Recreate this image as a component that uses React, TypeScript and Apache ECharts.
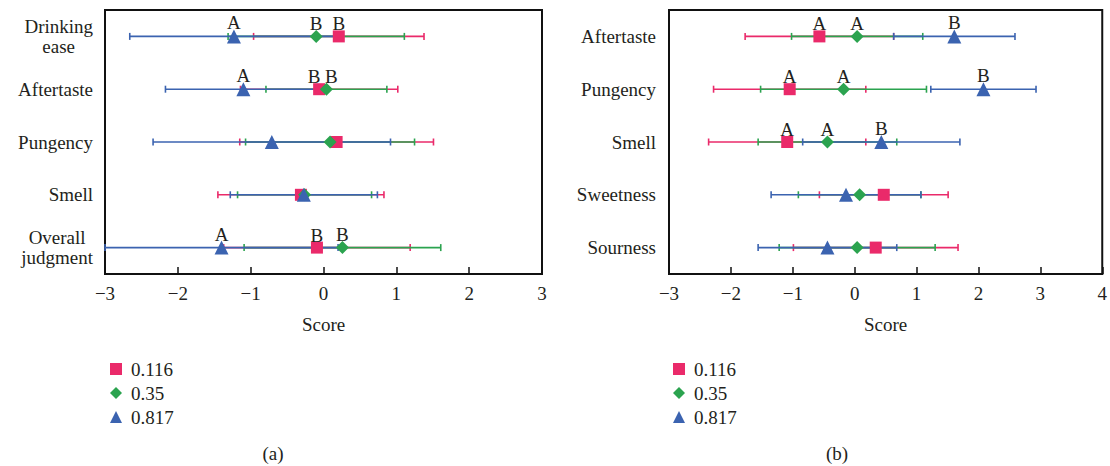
import React, { useEffect, useRef } from "react";
import * as echarts from "echarts";

const leftCategories = ["Drinking\nease", "Aftertaste", "Pungency", "Smell", "Overall\njudgment"];
const rightCategories = ["Aftertaste", "Pungency", "Smell", "Sweetness", "Sourness"];
const seriesNames = ["0.116", "0.35", "0.817"];
const xTicksLeft = [-3, -2, -1, 0, 1, 2, 3];
const xTicksRight = [-3, -2, -1, 0, 1, 2, 3, 4];

// Left panel (a)
const leftRedMean = [0.21, -0.06, 0.18, -0.31, -0.09];
const leftRedErr = [1.17, 1.08, 1.33, 1.14, 1.28];
const leftGreenMean = [-0.1, 0.04, 0.09, -0.26, 0.26];
const leftGreenErr = [1.21, 0.83, 1.16, 0.92, 1.35];
const leftBlueMean = [-1.23, -1.1, -0.71, -0.27, -1.4];
const leftBlueErr = [1.43, 1.07, 1.63, 1.01, 1.6];
const leftRedLetters = ["B", "B", "", "", "B"];
const leftGreenLetters = ["B", "B", "", "", "B"];
const leftBlueLetters = ["A", "A", "", "", "A"];

// Right panel (b)
const rightRedMean = [-0.57, -1.05, -1.09, 0.47, 0.34];
const rightRedErr = [1.2, 1.23, 1.27, 1.04, 1.33];
const rightGreenMean = [0.04, -0.18, -0.44, 0.08, 0.04];
const rightGreenErr = [1.06, 1.34, 1.12, 0.99, 1.26];
const rightBlueMean = [1.61, 2.08, 0.43, -0.14, -0.44];
const rightBlueErr = [0.98, 0.85, 1.27, 1.21, 1.12];
const rightRedLetters = ["A", "A", "A", "", ""];
const rightGreenLetters = ["A", "A", "A", "", ""];
const rightBlueLetters = ["B", "B", "B", "", ""];

const RED = "#EA2A6A";
const GREEN = "#2BA34F";
const BLUE = "#3B63B0";
const TEXT = "#231F20";
const FONT = "Liberation Serif";
const symbols = ["rect", "diamond", "triangle"];
const symbolSizes = [12, 13, 14];
const colors = [RED, GREEN, BLUE];

function errorSeries(k: number, means: number[], errs: number[], axisIdx: number) {
  const color = colors[k];
  return {
    type: "custom",
    name: seriesNames[k],
    xAxisIndex: axisIdx,
    yAxisIndex: axisIdx,
    z: 2,
    itemStyle: { color },
    encode: { x: [0, 2], y: 1 },
    data: means.map((m, i) => [m - errs[i], i, m + errs[i]]),
    renderItem: (params: any, api: any) => {
      const low = api.value(0);
      const cat = api.value(1);
      const high = api.value(2);
      const p1 = api.coord([low, cat]);
      const p2 = api.coord([high, cat]);
      const h = 3.5;
      const style = { stroke: color, lineWidth: 1.6 };
      return {
        type: "group",
        children: [
          { type: "line", shape: { x1: p1[0], y1: p1[1], x2: p2[0], y2: p2[1] }, style },
          { type: "line", shape: { x1: p1[0], y1: p1[1] - h, x2: p1[0], y2: p1[1] + h }, style },
          { type: "line", shape: { x1: p2[0], y1: p2[1] - h, x2: p2[0], y2: p2[1] + h }, style },
        ],
      };
    },
  };
}

// nudge letters apart horizontally when two labelled means nearly coincide
function labelNudge(k: number, i: number, allMeans: number[][], allLetters: string[][]) {
  let dx = 0;
  for (let j = 0; j < allMeans.length; j++) {
    if (j === k || !allLetters[j][i] || !allLetters[k][i]) continue;
    const d = allMeans[k][i] - allMeans[j][i];
    if (Math.abs(d) < 0.2) dx += d < 0 ? -5 : 5;
  }
  return dx;
}

function meanSeries(k: number, allMeans: number[][], allLetters: string[][], axisIdx: number) {
  const means = allMeans[k];
  const letters = allLetters[k];
  return {
    type: "scatter",
    name: seriesNames[k],
    xAxisIndex: axisIdx,
    yAxisIndex: axisIdx,
    z: 3 + k,
    symbol: symbols[k],
    symbolSize: symbolSizes[k],
    itemStyle: { color: colors[k], opacity: 1 },
    label: {
      show: true,
      position: "top",
      distance: -3,
      color: TEXT,
      fontFamily: FONT,
      fontSize: 19,
      formatter: (p: any) => letters[p.dataIndex],
    },
    emphasis: { disabled: true },
    data: means.map((m, i) => ({
      value: [m, i],
      label: { offset: [labelNudge(k, i, allMeans, allLetters), 0] },
    })),
  };
}

function xAxis(gridIndex: number, min: number, max: number) {
  return {
    type: "value",
    gridIndex,
    min,
    max,
    interval: 1,
    name: "Score",
    nameLocation: "middle",
    nameGap: 41,
    nameTextStyle: { color: TEXT, fontFamily: FONT, fontSize: 19 },
    axisLine: { show: true, onZero: false, lineStyle: { color: "#111", width: 2 } },
    axisTick: { show: true, inside: true, length: 7, lineStyle: { color: "#111", width: 1.5 } },
    axisLabel: {
      color: TEXT,
      fontFamily: FONT,
      fontSize: 19,
      margin: 10,
      formatter: (v: number) => (v < 0 ? "\u2212" + Math.abs(v) : String(v)),
    },
    splitLine: { show: false },
  };
}

function yAxis(gridIndex: number, cats: string[], margin: number) {
  return {
    type: "category",
    gridIndex,
    inverse: true,
    data: cats,
    axisLine: { show: false },
    axisTick: { show: false },
    axisLabel: {
      margin,
      align: "right",
      color: TEXT,
      fontFamily: FONT,
      fontSize: 19,
      lineHeight: 20,
      formatter: (v: string) =>
        v
          .split("\n")
          .map((s) => "{c|" + s + "}")
          .join("\n"),
      rich: { c: { align: "center", color: TEXT, fontFamily: FONT, fontSize: 19, lineHeight: 20 } },
    },
    splitLine: { show: false },
  };
}

function legend(left: number) {
  return {
    orient: "vertical",
    left,
    top: 352,
    itemWidth: 12,
    itemHeight: 12,
    itemGap: 0,
    selectedMode: false,
    textStyle: { color: TEXT, fontFamily: FONT, fontSize: 19, lineHeight: 24, padding: [0, 0, 0, 4] },
    data: seriesNames.map((n, k) => ({ name: n, icon: symbols[k], itemStyle: { color: colors[k] } })),
  };
}

export default function App() {
  const ref = useRef<HTMLDivElement>(null);
  useEffect(() => {
    document.body.style.margin = "0";
    const chart = echarts.init(ref.current!, null, { renderer: "svg" });
    const leftMeans = [leftRedMean, leftGreenMean, leftBlueMean];
    const leftLetters = [leftRedLetters, leftGreenLetters, leftBlueLetters];
    const rightMeans = [rightRedMean, rightGreenMean, rightBlueMean];
    const rightLetters = [rightRedLetters, rightGreenLetters, rightBlueLetters];
    const option = {
      animation: false,
      backgroundColor: "#fff",
      grid: [
        { left: 105, right: 568, top: 10, height: 264, show: true, borderColor: "#111", borderWidth: 2 },
        { left: 669, right: 5, top: 10, height: 264, show: true, borderColor: "#111", borderWidth: 2 },
      ],
      xAxis: [
        xAxis(0, xTicksLeft[0], xTicksLeft[xTicksLeft.length - 1]),
        xAxis(1, xTicksRight[0], xTicksRight[xTicksRight.length - 1]),
      ],
      yAxis: [yAxis(0, leftCategories, 12), yAxis(1, rightCategories, 13)],
      legend: [legend(105), legend(668)],
      graphic: [
        { type: "text", x: 273, y: 453, style: { text: "(a)", fill: TEXT, font: "19px " + FONT, align: "center", verticalAlign: "middle" } },
        { type: "text", x: 837, y: 453, style: { text: "(b)", fill: TEXT, font: "19px " + FONT, align: "center", verticalAlign: "middle" } },
      ],
      series: [
        errorSeries(0, leftRedMean, leftRedErr, 0),
        errorSeries(1, leftGreenMean, leftGreenErr, 0),
        errorSeries(2, leftBlueMean, leftBlueErr, 0),
        meanSeries(0, leftMeans, leftLetters, 0),
        meanSeries(1, leftMeans, leftLetters, 0),
        meanSeries(2, leftMeans, leftLetters, 0),
        errorSeries(0, rightRedMean, rightRedErr, 1),
        errorSeries(1, rightGreenMean, rightGreenErr, 1),
        errorSeries(2, rightBlueMean, rightBlueErr, 1),
        meanSeries(0, rightMeans, rightLetters, 1),
        meanSeries(1, rightMeans, rightLetters, 1),
        meanSeries(2, rightMeans, rightLetters, 1),
      ],
    };
    chart.setOption(option as any);
    return () => chart.dispose();
  }, []);
  return <div ref={ref} style={{ width: 1110, height: 466 }} />;
}
